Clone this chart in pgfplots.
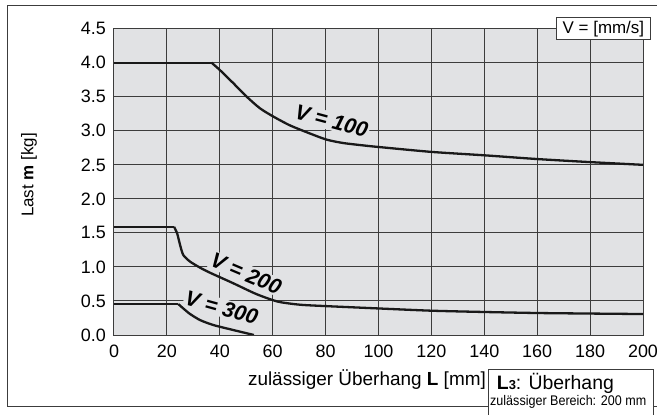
\documentclass[border=0pt]{standalone}
\usepackage{fontspec}
\setmainfont{Liberation Sans}
\usepackage{pgfplots}
\pgfplotsset{compat=1.18}

\definecolor{bg}{RGB}{225,226,228}
\definecolor{gridc}{RGB}{60,60,60}
\definecolor{ink}{RGB}{25,25,25}

\begin{document}
\begin{tikzpicture}[font=\fontsize{18}{21}\selectfont]
\begin{axis}[
  at={(0,0)}, anchor=south west,
  scale only axis, width=529bp, height=306.3bp,
  xmin=0, xmax=200, ymin=0, ymax=4.5,
  xtick={0,20,...,200},
  ytick={0,0.5,1,1.5,2,2.5,3,3.5,4,4.5},
  yticklabel style={/pgf/number format/fixed,
    /pgf/number format/fixed zerofill,
    /pgf/number format/precision=1},
  grid=major,
  major grid style={gridc, line width=1bp},
  axis line style={gridc, line width=1bp},
  axis background/.style={fill=bg},
  tick style={draw=none},
  ticklabel style={font=\fontsize{18}{21}\selectfont,
    /pgf/number format/assume math mode=true},
  xticklabel style={anchor=north, inner sep=0pt, yshift=-10bp},
  yticklabel style={anchor=east, inner sep=0pt, xshift=-8bp},
]
% labels on the curves
\node[rotate=-15, fill=bg, inner sep=1.5bp,
  font=\bfseries\itshape\fontsize{21.5}{22}\selectfont]
  at (axis cs:82.3,3.14) {V = 100};
\node[rotate=-23, fill=bg, inner sep=1.5bp,
  font=\bfseries\itshape\fontsize{21.5}{22}\selectfont]
  at (axis cs:50,0.90) {V = 200};
\node[rotate=-15.5, fill=bg, inner sep=1.5bp,
  font=\bfseries\itshape\fontsize{21.5}{22}\selectfont]
  at (axis cs:40.7,0.40) {V = 300};

% V = 100
\addplot[ink, line width=2.3bp] coordinates {(0,4.0) (36.9,4.0)};
\addplot[ink, line width=2.3bp, smooth, tension=0.4] coordinates {
  (36.9,4.0) (40.1,3.89) (45.1,3.70) (50.2,3.50) (55.2,3.33) (60.2,3.21)
  (66.5,3.08) (74.1,2.96) (80.4,2.87) (86.7,2.82) (95.5,2.78) (100.6,2.76)
  (120,2.69) (140,2.64) (160,2.585) (180,2.54) (200,2.50)};
% V = 200
\addplot[ink, line width=2.3bp] coordinates {(0,1.59) (22.7,1.59)};
\addplot[ink, line width=2.3bp, smooth, tension=0.4] coordinates {
  (22.7,1.59) (23.9,1.49) (25,1.32) (26.2,1.175) (28.7,1.08) (32.5,0.99)
  (36.3,0.915) (45.1,0.76) (53.9,0.60) (62,0.49) (70.3,0.445) (79.8,0.425)
  (100,0.39) (120,0.357) (140,0.338) (160,0.323) (180,0.315) (200,0.308)};
% V = 300
\addplot[ink, line width=2.3bp] coordinates {(0,0.455) (24.3,0.455)};
\addplot[ink, line width=2.3bp, smooth, tension=0.4] coordinates {
  (24.3,0.455) (26.2,0.39) (28.7,0.31) (32.5,0.22) (37.5,0.147)
  (45.1,0.073) (52.9,0.0)};
\end{axis}

% outer frame (cut off at the right)
\draw[gridc, line width=1bp] (543bp,329bp) -- (-106bp,329bp) -- (-106bp,-71bp) -- (374bp,-71bp);
\draw[gridc, line width=1bp] (539bp,-71bp) -- (543bp,-71bp);

% unit box
\node[draw=gridc, line width=1bp, fill=white, inner sep=0pt,
  minimum width=93.3bp, minimum height=22bp,
  font=\fontsize{17}{19}\selectfont] at (489.4bp,306bp) {V = [mm/s]};

% axis labels
\node[anchor=base east, inner sep=0pt, font=\fontsize{19}{21}\selectfont] at (372bp,-50bp)
  {zulässiger Überhang \textbf{L} [mm]};
\node[rotate=90, inner sep=0pt, font=\fontsize{17}{19}\selectfont] at (-85bp,160bp)
  {Last \textbf{m} [kg]};

% overhang note
\draw[gridc, line width=1bp] (374bp,-85bp) -- (374bp,-34.5bp) -- (539bp,-34.5bp) -- (539bp,-85bp);
\node[anchor=base west, inner sep=0pt, font=\fontsize{19.5}{21}\selectfont] at (382.7bp,-54.3bp)
  {\textbf{L}{\fontsize{13}{13}\selectfont\textbf{3}}: Überhang};
\node[anchor=base west, inner sep=0pt, font=\fontsize{14}{15}\selectfont] at (376bp,-70bp)
  {\scalebox{0.9}[1]{zulässiger Bereich: 200 mm}};

\pgfresetboundingbox
\path[use as bounding box] (-114bp,-80bp) rectangle (543bp,335bp);
\end{tikzpicture}
\end{document}
